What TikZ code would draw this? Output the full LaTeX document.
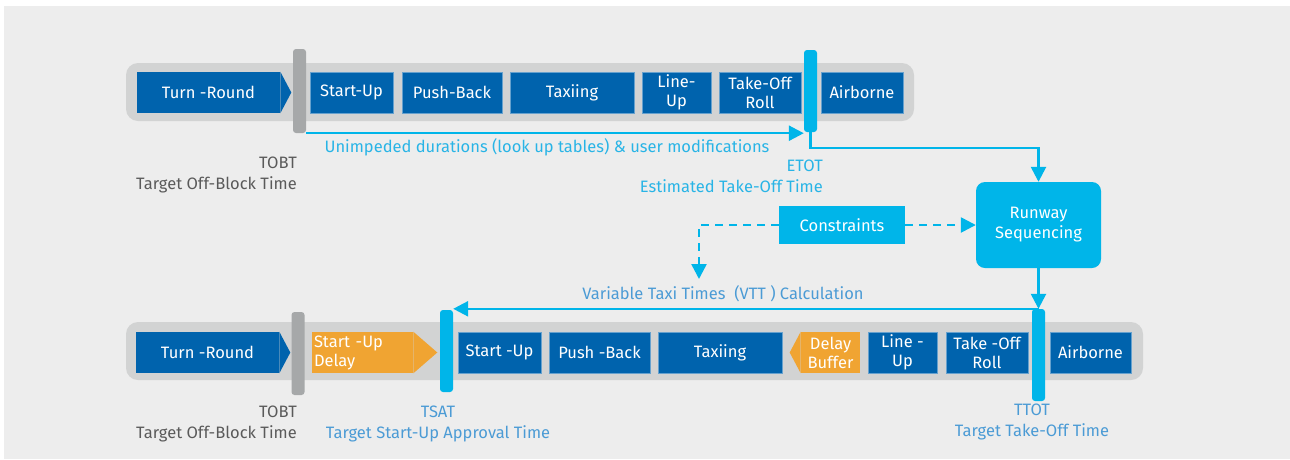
\documentclass[tikz,border=0pt]{standalone}
\usepackage{fontspec}
\setmainfont{Fira Sans}
\usetikzlibrary{arrows.meta}
\definecolor{bgGray}{RGB}{237,237,237}
\definecolor{bandGray}{RGB}{210,211,211}
\definecolor{barGray}{RGB}{166,168,169}
\definecolor{phaseBlue}{RGB}{0,99,173}
\definecolor{flowCyan}{RGB}{0,181,233}
\definecolor{delayOrange}{RGB}{240,164,50}
\definecolor{txtGray}{RGB}{90,90,90}
\definecolor{txtCyan}{RGB}{40,180,230}
\definecolor{txtBlue}{RGB}{75,155,213}
\tikzset{
  band/.style={fill=bandGray, rounded corners=12pt, minimum height=58pt, inner sep=0pt},
  phase/.style={fill=phaseBlue, draw=phaseBlue!60!white, line width=0.6pt, text=white, minimum height=41pt, inner sep=0pt, align=center, font=\fontsize{16.5}{19}\selectfont},
  phasebody/.style={phase, draw=none},
  delay/.style={phasebody, fill=delayOrange},
  bar/.style={rounded corners=3pt, minimum width=13pt, inner sep=0pt},
  flow/.style={draw=flowCyan, line width=2.5pt, -{Triangle[length=15pt,width=15pt]}},
  dflow/.style={flow, dash pattern=on 8pt off 6pt},
  lbl/.style={inner sep=0pt, align=center, font=\fontsize{16.5}{21}\selectfont}
}
\begin{document}
\begin{tikzpicture}[x=1pt,y=-1pt]
\useasboundingbox (0,0) rectangle (1290,459);
\fill[bgGray] (4,6) rectangle (1290,459);

% Planned sequence
\node (bandA) [band, minimum width=788pt] at (520,92) {};
\node (turnA) [phasebody, minimum width=143pt] at (208.5,92.5) {Turn -Round};
\fill[phaseBlue] (turnA.north east) -- ([xshift=11pt]turnA.east) -- (turnA.south east) -- cycle;
\node (startA) [phase, minimum width=83pt] at (351.5,92.5) {Start-Up};
\node (pushA) [phase, minimum width=100pt] at (452,92.5) {Push-Back};
\node (taxiA) [phase, minimum width=124pt] at (572,92.5) {Taxiing};
\node (lineA) [phase, minimum width=69pt] at (676.5,92.5) {Line-\\Up};
\node (rollA) [phase, minimum width=82pt] at (760,92.5) {Take-Off\\Roll};
\node (airA) [phase, minimum width=82pt] at (862,92.5) {Airborne};
\node (tobtA) [bar, fill=barGray, minimum height=84pt] at (299.5,91) {};
\node (etot) [bar, fill=flowCyan, minimum height=82pt] at (810.5,91) {};

\node (unimp) [lbl, text=txtCyan] at (547,147) {Unimpeded durations (look up tables) \& user modifications};
\node (tobtLblA) [lbl, text=txtGray, align=right, anchor=base east] at (297,189) {TOBT\\Target Off-Block Time};
\node (etotLbl) [lbl, text=txtCyan, align=right, anchor=base east] at (823,192) {ETOT\\Estimated Take-Off Time};

% Sequencing
\node (runway) [fill=flowCyan, rounded corners=9pt, minimum width=125pt, minimum height=86pt, text=white, align=center, font=\fontsize{16.5}{20}\selectfont] at (1038.5,225) {Runway\\Sequencing};
\node (cons) [fill=flowCyan, minimum width=126pt, minimum height=38pt, text=white, font=\fontsize{16.5}{19}\selectfont] at (842,225) {Constraints};
\coordinate (vttIn) at (699,279);
\node (vttLbl) [lbl, text=txtBlue] at (723,294) {Variable Taxi Times~ (VTT ) Calculation};

% Target sequence
\node (bandB) [band, minimum width=1017pt] at (634.5,351) {};
\node (turnB) [phasebody, minimum width=143pt] at (207.5,352.5) {Turn -Round};
\fill[phaseBlue] (turnB.north east) -- ([xshift=11pt]turnB.east) -- (turnB.south east) -- cycle;
\node (delayS) [delay, minimum width=101pt, text width=97pt, align=left] at (362.5,352.5) {Start -Up\\Delay};
\fill[delayOrange] (delayS.north east) -- ([xshift=24pt]delayS.east) -- (delayS.south east) -- cycle;
\node (startB) [phase, minimum width=83pt] at (499.5,352.5) {Start -Up};
\node (pushB) [phase, minimum width=101pt] at (599.5,352.5) {Push -Back};
\node (taxiB) [phase, minimum width=124pt] at (720,352.5) {Taxiing};
\node (bufB) [delay, minimum width=59pt] at (830.5,352.5) {Delay\\Buffer};
\fill[delayOrange] (bufB.north west) -- ([xshift=-11pt]bufB.west) -- (bufB.south west) -- cycle;
\node (lineB) [phase, minimum width=69pt] at (902.5,352.5) {Line -\\Up};
\node (rollB) [phase, minimum width=82pt] at (987,352.5) {Take -Off\\Roll};
\node (airB) [phase, minimum width=81pt] at (1090.5,352.5) {Airborne};
\node (tobtB) [bar, fill=barGray, minimum height=83pt] at (298,353.5) {};
\node (tsat) [bar, fill=flowCyan, minimum height=82pt] at (446.5,351) {};
\node (ttot) [bar, fill=flowCyan, minimum height=92pt] at (1038.5,355) {};

\node (tobtLblB) [lbl, text=txtGray, align=right, anchor=base east] at (297,438) {TOBT\\Target Off-Block Time};
\node (tsatLbl) [lbl, text=txtBlue, anchor=base] at (438,438) {TSAT\\Target Start-Up Approval Time};
\node (ttotLbl) [lbl, text=txtBlue, anchor=base] at (1032,436) {TTOT\\Target Take-Off Time};

% Arrows
\draw[flow] (tobtA.south east) -- (tobtA.south east -| etot.west);
\draw[flow] (etot.south) -- ++(0,16) -| (runway.north);
\draw[dflow] (cons.east) -- (runway.west);
\draw[dflow] (cons.west) -| (vttIn);
\draw[flow] (runway.south) -- (ttot.north);
\draw[flow] (ttot.north) -- (ttot.north -| tsat.east);
\end{tikzpicture}
\end{document}
